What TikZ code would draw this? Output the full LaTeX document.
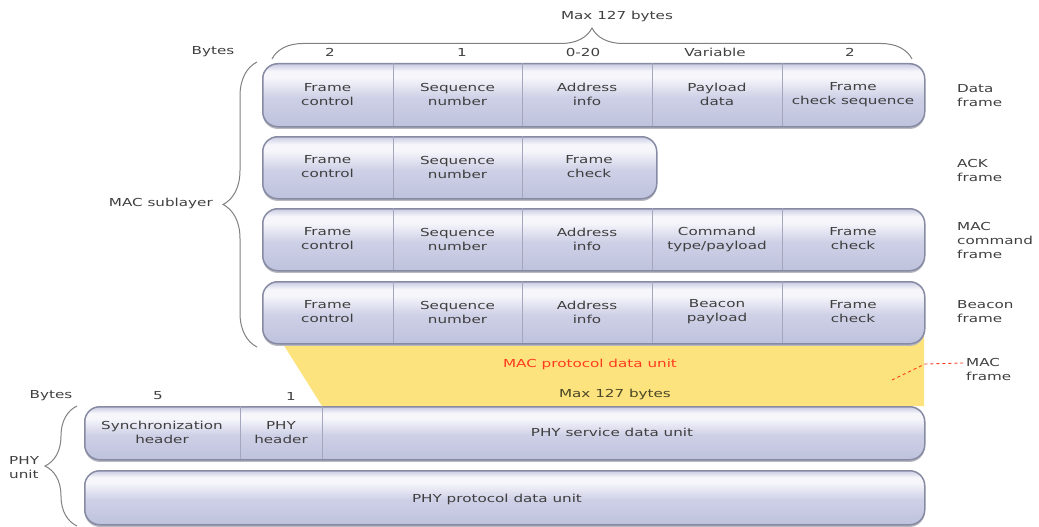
\documentclass[tikz,border=0pt]{standalone}
\usepackage{fontspec}
\setmainfont{DejaVu Sans}[FakeStretch=1.38]
\usetikzlibrary{decorations.pathreplacing}
\definecolor{txt}{HTML}{3F3F3F}
\definecolor{rowline}{HTML}{868AA2}
\definecolor{divline}{HTML}{A3A6BC}
\definecolor{rowbot}{HTML}{BFC2DC}
\definecolor{rowmid}{HTML}{CDD0E6}
\definecolor{rowhi}{HTML}{F6F6FB}
\definecolor{rowtop}{HTML}{C9CBE2}
\definecolor{shadowc}{HTML}{B8B8C0}
\definecolor{macyel}{HTML}{FCE37D}
\definecolor{macred}{HTML}{FF3B1F}
\definecolor{olive}{HTML}{4A4628}
\definecolor{bracec}{HTML}{808080}
\pgfdeclareverticalshading{rowshade}{100bp}{color(0bp)=(rowbot); color(25bp)=(rowbot); color(48bp)=(rowmid); color(64bp)=(rowhi); color(69bp)=(rowhi); color(75bp)=(rowtop); color(100bp)=(rowtop)}
\begin{document}
\begin{tikzpicture}[x=1pt,y=-1pt,
  every node/.style={font=\fontsize{11}{14}\selectfont, text=txt},
  row/.style={draw=rowline, line width=1.5pt, rounded corners=15pt, shading=rowshade, inner sep=0, anchor=north west,
    preaction={fill=shadowc, transform canvas={yshift=-2.2pt}}},
  cell/.style={inner sep=0, align=center, minimum height=#1},
  cell/.default=63pt,
  div/.style={draw=divline, line width=0.8pt},
  lbl/.style={inner sep=0, align=left, anchor=west},
  brc/.style={draw=bracec, line width=1pt, decorate, decoration={brace, amplitude=#1}},
]
\useasboundingbox (0,0) rectangle (1039,527);

% yellow MAC protocol data unit area
\fill[macyel] (278,336) -- (924,336) -- (924,406) -- (322,406) -- cycle;
\node[text=macred] (mpdu) at (590,364) {MAC protocol data unit};
\node[text=olive] (mmax) at (615,394) {Max 127 bytes};

% top labels
\node (max) at (617,16) {Max 127 bytes};
\node (bytes1) at (213,52) {Bytes};
\node (b1) at (330,52) {2};
\node (b2) at (462,52) {1};
\node (b3) at (583,52) {0-20};
\node (b4) at (715,52) {Variable};
\node (b5) at (850,52) {2};
\coordinate (tbl) at (272,59);
\coordinate (tbr) at (912,59);
\draw[brc=31pt] (tbl) -- (tbr);

% Data frame
\node[row, minimum width=662pt, minimum height=63pt] (data) at (262,63) {};
\node[cell, minimum width=131pt] (d1) at (327.5,94.5) {Frame\\control};
\node[cell, minimum width=129pt] (d2) at (457.5,94.5) {Sequence\\number};
\node[cell, minimum width=130pt] (d3) at (587,94.5) {Address\\info};
\node[cell, minimum width=130pt] (d4) at (717,94.5) {Payload\\data};
\node[cell, minimum width=142pt] (d5) at (853,94.5) {Frame\\check sequence};
\foreach \c in {d1,d2,d3,d4} \draw[div] (\c.north east) -- (\c.south east);

% ACK frame
\node[row, minimum width=394pt, minimum height=62pt] (ack) at (262,136) {};
\node[cell=62pt, minimum width=131pt] (a1) at (327.5,167) {Frame\\control};
\node[cell=62pt, minimum width=129pt] (a2) at (457.5,167) {Sequence\\number};
\node[cell=62pt, minimum width=134pt] (a3) at (589,167) {Frame\\check};
\foreach \c in {a1,a2} \draw[div] (\c.north east) -- (\c.south east);

% MAC command frame
\node[row, minimum width=662pt, minimum height=62pt] (cmd) at (262,208) {};
\node[cell=62pt, minimum width=131pt] (c1) at (327.5,239) {Frame\\control};
\node[cell=62pt, minimum width=129pt] (c2) at (457.5,239) {Sequence\\number};
\node[cell=62pt, minimum width=130pt] (c3) at (587,239) {Address\\info};
\node[cell=62pt, minimum width=130pt] (c4) at (717,239) {Command\\type/payload};
\node[cell=62pt, minimum width=142pt] (c5) at (853,239) {Frame\\check};
\foreach \c in {c1,c2,c3,c4} \draw[div] (\c.north east) -- (\c.south east);

% Beacon frame
\node[row, minimum width=662pt, minimum height=62pt] (bcn) at (262,281) {};
\node[cell=62pt, minimum width=131pt] (e1) at (327.5,312) {Frame\\control};
\node[cell=62pt, minimum width=129pt] (e2) at (457.5,312) {Sequence\\number};
\node[cell=62pt, minimum width=130pt] (e3) at (587,312) {Address\\info};
\node[cell=62pt, minimum width=130pt] (e4) at (717,312) {Beacon\\payload};
\node[cell=62pt, minimum width=142pt] (e5) at (853,312) {Frame\\check};
\foreach \c in {e1,e2,e3,e4} \draw[div] (\c.north east) -- (\c.south east);

% right labels
\node[lbl] (ldata) at (957,96) {Data\\frame};
\node[lbl] (lack) at (957,170) {ACK\\frame};
\node[lbl] (lcmd) at (957,240) {MAC\\command\\frame};
\node[lbl] (lbcn) at (957,312) {Beacon\\frame};
\node[lbl] (lmacf) at (966,369) {MAC\\frame};
\coordinate (dsA) at (892,380);
\coordinate (dsB) at (925,364);
\coordinate (dsC) at (963,363);
\draw[macred, dashed, line width=0.9pt, dash pattern=on 3pt off 3pt] (dsA) -- (dsB) -- (dsC);

% MAC sublayer brace
\coordinate (mbb) at (257,347);
\coordinate (mbt) at (257,62);
\draw[brc=34pt] (mbb) -- (mbt);
\node[anchor=east, inner sep=0] (macsub) at (213,203) {MAC sublayer};

% PHY part
\node (bytes2) at (51,396) {Bytes};
\node (p5) at (158,396) {5};
\node (p1) at (291,396) {1};
\node[row, minimum width=840pt, minimum height=53pt] (psdu) at (84,406) {};
\node[cell=53pt, minimum width=156pt] (s1) at (162,432.5) {Synchronization\\header};
\node[cell=53pt, minimum width=82pt] (s2) at (281,432.5) {PHY\\header};
\node[cell=53pt, minimum width=602pt] (s3) at (623,432.5) {\hspace*{-22pt}PHY service data unit};
\foreach \c in {s1,s2} \draw[div] (\c.north east) -- (\c.south east);

\node[row, minimum width=840pt, minimum height=54pt] (ppdu) at (84,470) {};
\node (ppdut) at (497,499) {PHY protocol data unit};

\coordinate (pbb) at (77,526);
\coordinate (pbt) at (77,406);
\draw[brc=32pt] (pbb) -- (pbt);
\node[lbl] (phyu) at (9,468) {PHY\\unit};
\end{tikzpicture}
\end{document}
